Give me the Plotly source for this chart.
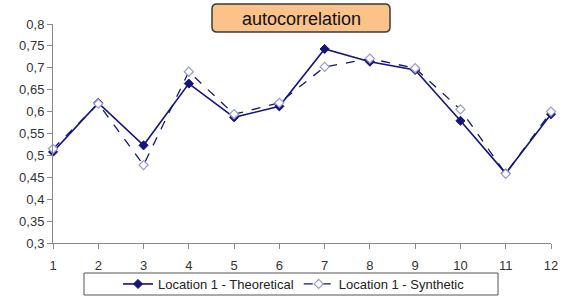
import plotly.graph_objects as go

lags = list(range(1, 13))
theoretical = [0.508, 0.620, 0.523, 0.664, 0.587, 0.612, 0.743, 0.714, 0.695, 0.579, 0.459, 0.594]
synthetic = [0.515, 0.618, 0.478, 0.691, 0.594, 0.620, 0.702, 0.721, 0.699, 0.605, 0.458, 0.600]
ytick_vals = [0.3, 0.35, 0.4, 0.45, 0.5, 0.55, 0.6, 0.65, 0.7, 0.75, 0.8]
ytick_text = ["0,3", "0,35", "0,4", "0,45", "0,5", "0,55", "0,6", "0,65", "0,7", "0,75", "0,8"]
title_text = "autocorrelation"
names = ["Location 1 - Theoretical", "Location 1 - Synthetic"]

navy = "#14147f"

fig = go.Figure()
fig.add_trace(go.Scatter(
    x=lags, y=theoretical, mode="lines+markers", name=names[0], cliponaxis=False,
    line=dict(color=navy, width=1.6),
    marker=dict(symbol="diamond", size=7, color=navy, line=dict(color=navy, width=1)),
))
fig.add_trace(go.Scatter(
    x=lags, y=synthetic, mode="lines+markers", name=names[1], cliponaxis=False,
    line=dict(color=navy, width=1.3, dash="dash"),
    marker=dict(symbol="diamond", size=7, color="#ffffff", line=dict(color="#9a9ad0", width=1.2)),
))

W, H = 561, 298
l, rr, t, b = 53, 10, 24, 55
pw, ph = W - l - rr, H - t - b

def fx(x):
    return (x - l) / pw

def fy(y):
    return (H - b - y) / ph

fig.update_layout(
    width=W, height=H,
    margin=dict(l=l, r=rr, t=t, b=b, autoexpand=False),
    paper_bgcolor="white", plot_bgcolor="white",
    font=dict(family="Liberation Sans, Arial, sans-serif", size=13, color="#333333"),
    showlegend=True,
    legend=dict(
        orientation="h", x=fx(294), xanchor="center", y=fy(284), yanchor="middle",
        borderwidth=0, bgcolor="rgba(0,0,0,0)",
        font=dict(size=13, color="#222222"),
        tracegroupgap=0, itemwidth=30,
    ),
    xaxis=dict(
        range=[1, 12], tickmode="array", tickvals=lags, ticktext=[str(v) for v in lags],
        showgrid=False, zeroline=False, showline=True, linecolor="#8a8a8a", linewidth=1,
        ticks="outside", ticklen=5, tickcolor="#8a8a8a", ticklabelstandoff=5,
        ticklabeloverflow="allow",
    ),
    yaxis=dict(
        range=[0.3, 0.8], tickmode="array", tickvals=ytick_vals, ticktext=ytick_text,
        showgrid=False, zeroline=False, showline=True, linecolor="#8a8a8a", linewidth=1,
        ticks="outside", ticklen=5, tickcolor="#8a8a8a",
    ),
)

# legend frame
fig.add_shape(type="rect", xref="paper", yref="paper",
              x0=fx(84), x1=fx(498), y0=fy(273), y1=fy(295),
              line=dict(color="#555555", width=1), fillcolor="rgba(0,0,0,0)", layer="below")

# rounded title box
x0, x1, y0, y1 = 212, 390, 4, 32
r = 5
path = (f"M {fx(x0+r)},{fy(y0)} L {fx(x1-r)},{fy(y0)} Q {fx(x1)},{fy(y0)} {fx(x1)},{fy(y0+r)} "
        f"L {fx(x1)},{fy(y1-r)} Q {fx(x1)},{fy(y1)} {fx(x1-r)},{fy(y1)} "
        f"L {fx(x0+r)},{fy(y1)} Q {fx(x0)},{fy(y1)} {fx(x0)},{fy(y1-r)} "
        f"L {fx(x0)},{fy(y0+r)} Q {fx(x0)},{fy(y0)} {fx(x0+r)},{fy(y0)} Z")
fig.add_shape(type="path", path=path, xref="paper", yref="paper",
              fillcolor="#fbc28a", line=dict(color="#3a3a3a", width=1.5), layer="above")
fig.add_annotation(
    x=fx((x0 + x1) / 2), y=fy((y0 + y1) / 2 + 1), xref="paper", yref="paper",
    text=title_text, showarrow=False, xanchor="center", yanchor="middle",
    font=dict(size=18, color="#111111", family="Liberation Sans, Arial, sans-serif"),
)

fig.write_html("out.html", config={"displayModeBar": False},
               post_script="document.body.style.margin='0px';document.body.style.overflow='hidden';")
